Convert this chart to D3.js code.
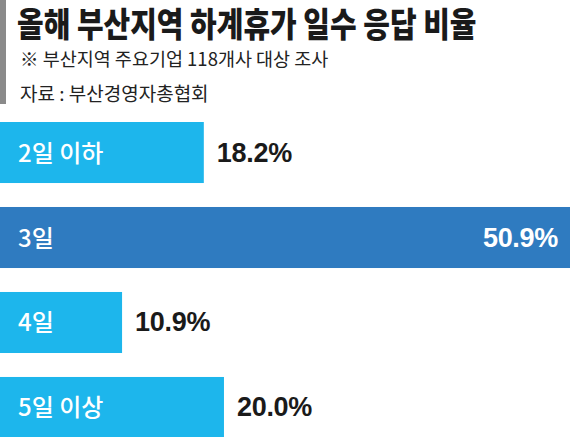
<!DOCTYPE html>
<html>
<head>
<meta charset="utf-8">
<script src="https://cdn.jsdelivr.net/npm/d3@7"></script>
<style>
  body { margin: 0; background: #fff; }
  svg { display: block; }
</style>
</head>
<body>
<div id="chart"></div>
<script>
// data
var categories = ["2일 이하", "3일", "4일", "5일 이상"];
var values = [18.2, 50.9, 10.9, 20.0];
var highlight = "3일";

var titleText = "올해 부산지역 하계휴가 일수 응답 비율";
var noteText = "※ 부산지역 주요기업 118개사 대상 조사";
var sourceText = "자료 : 부산경영자총협회";

var W = 570, H = 437;
var kr = "'Noto Sans CJK KR', 'Noto Sans', sans-serif";

var svg = d3.select('#chart')
    .append('svg')
    .attr('width', W)
    .attr('height', H);

// header
svg.append('rect')
    .attr('x', 0).attr('y', 0)
    .attr('width', 6).attr('height', 104)
    .attr('fill', '#8a8a8a');

// title is set in a tall cut, so stretch it a bit vertically
svg.append('text')
    .attr('transform', 'translate(17,37) scale(0.95,1.12)')
    .attr('font-family', kr)
    .attr('font-weight', 800)
    .attr('font-size', 30.5)
    .attr('fill', '#1a1a1a')
    .text(titleText);

svg.append('text')
    .attr('x', 20).attr('y', 66)
    .attr('font-family', kr)
    .attr('font-size', 18.5)
    .attr('fill', '#222')
    .text(noteText);

svg.append('text')
    .attr('x', 20).attr('y', 101)
    .attr('font-family', kr)
    .attr('font-size', 19)
    .attr('fill', '#222')
    .text(sourceText);

// scales
var xScale = d3.scaleLinear()
    .domain([0, d3.max(values)])
    .range([0, W]);

var yScale = d3.scaleBand()
    .domain(categories)
    .range([122, 438])
    .paddingInner(0.282)
    .paddingOuter(0);

var rows = categories.map(function (c, i) { return { cat: c, val: values[i] }; });

var g = svg.append('g');

g.selectAll('rect.bar')
    .data(rows)
    .enter()
    .append('rect')
    .attr('class', 'bar')
    .attr('x', 0)
    .attr('y', function (d) { return yScale(d.cat); })
    .attr('width', function (d) { return xScale(d.val); })
    .attr('height', yScale.bandwidth())
    .attr('fill', function (d) { return d.cat === highlight ? '#2f7bc0' : '#1db6ec'; });

// category labels
g.selectAll('text.cat')
    .data(rows)
    .enter()
    .append('text')
    .attr('class', 'cat')
    .attr('x', 18)
    .attr('y', function (d) { return yScale(d.cat) + yScale.bandwidth() / 2 + 9; })
    .attr('font-family', kr)
    .attr('font-weight', 500)
    .attr('font-size', 24)
    .attr('fill', '#fff')
    .text(function (d) { return d.cat; });

// value labels
g.selectAll('text.val')
    .data(rows)
    .enter()
    .append('text')
    .attr('class', 'val')
    .attr('x', function (d) {
        return d.cat === highlight ? xScale(d.val) - 12 : xScale(d.val) + 13;
    })
    .attr('y', function (d) { return yScale(d.cat) + yScale.bandwidth() / 2 + 9; })
    .attr('text-anchor', function (d) { return d.cat === highlight ? 'end' : 'start'; })
    .attr('font-family', "'Liberation Sans', sans-serif")
    .attr('font-weight', 700)
    .attr('font-size', 27)
    .attr('letter-spacing', -0.3)
    .attr('fill', function (d) { return d.cat === highlight ? '#fff' : '#1a1a1a'; })
    .text(function (d) { return d.val.toFixed(1) + '%'; });
</script>
</body>
</html>
